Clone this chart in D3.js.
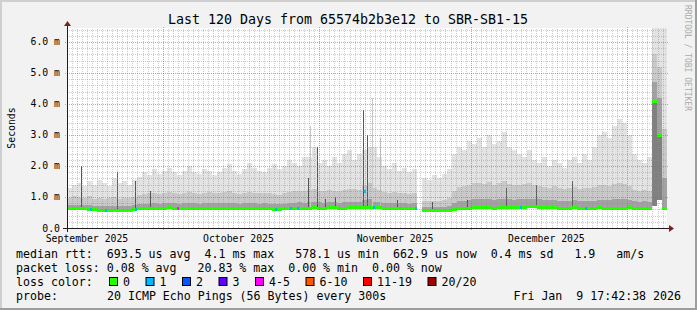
<!DOCTYPE html>
<html>
<head>
<meta charset="utf-8">
<script src="https://cdn.jsdelivr.net/npm/d3@7"></script>
<style>
body{margin:0;background:#f2f2f2;}
svg{display:block;}
text{font-family:"DejaVu Sans Mono",monospace;white-space:pre;}
</style>
</head>
<body>
<script>
// smokeping style rtt graph, 120 days, one bin per plot column group

var title = "Last 120 Days from 65574b2b3e12 to SBR-SB1-15";
var timeStart = Date.UTC(2025, 8, 12, 1, 0, 0);
var timeEnd = Date.UTC(2026, 0, 8, 21, 0, 0);

var yTicks = [0, 1, 2, 3, 4, 5, 6];
var yTickLabels = ["0.0", "1.0 m", "2.0 m", "3.0 m", "4.0 m", "5.0 m", "6.0 m"];
var monthLabels = ["September 2025", "October 2025", "November 2025", "December 2025"];

// rtt in ms per bin (120 bins), null = no data
var rttLo = [
 0.60,0.60,0.60,0.59,0.58,0.56,0.55,0.55,0.55,0.55,
 0.55,0.55,0.56,0.56,0.60,0.61,0.61,0.62,0.62,0.62,
 0.63,0.62,0.62,0.62,0.62,0.62,0.62,0.62,0.62,0.62,
 0.62,0.62,0.62,0.62,0.61,0.61,0.61,0.61,0.61,0.61,
 0.60,0.58,0.58,0.59,0.61,0.62,0.62,0.62,0.62,0.63,
 0.62,0.62,0.63,0.63,0.62,0.62,0.63,0.63,0.63,0.64,
 0.64,0.63,0.63,0.62,0.62,0.62,0.62,0.62,0.62,0.62,
 null,0.55,0.54,0.54,0.54,0.55,0.56,0.58,0.60,0.61,
 0.62,0.63,0.64,0.63,0.63,0.62,0.63,0.64,0.63,0.63,
 0.64,0.65,0.66,0.66,0.65,0.64,0.63,0.63,0.62,0.62,
 0.62,0.63,0.62,0.62,0.62,0.62,0.63,0.62,0.62,0.62,
 0.62,0.62,0.63,0.62,0.62,0.62,0.62,0.70,0.90,0.62
];
var rttMedian = [
 0.64,0.64,0.64,0.63,0.62,0.60,0.59,0.58,0.58,0.58,
 0.58,0.59,0.59,0.60,0.64,0.65,0.65,0.66,0.66,0.66,
 0.67,0.66,0.66,0.66,0.66,0.66,0.66,0.66,0.66,0.66,
 0.66,0.66,0.66,0.66,0.65,0.65,0.65,0.65,0.65,0.65,
 0.64,0.62,0.61,0.63,0.65,0.66,0.66,0.66,0.66,0.67,
 0.66,0.66,0.67,0.67,0.66,0.66,0.67,0.67,0.67,0.68,
 0.68,0.67,0.67,0.66,0.66,0.66,0.66,0.66,0.66,0.66,
 null,0.58,0.57,0.57,0.57,0.58,0.59,0.62,0.64,0.65,
 0.66,0.67,0.68,0.67,0.67,0.66,0.67,0.68,0.67,0.67,
 0.68,0.69,0.70,0.70,0.69,0.68,0.67,0.67,0.66,0.66,
 0.66,0.67,0.66,0.66,0.66,0.66,0.67,0.66,0.66,0.66,
 0.66,0.66,0.67,0.66,0.66,0.66,0.66,4.10,3.00,0.66
];
var rttP75 = [
 0.74,0.75,0.74,0.73,0.74,0.72,0.71,0.70,0.71,0.72,
 0.71,0.72,0.72,0.73,0.77,0.78,0.79,0.80,0.79,0.80,
 0.81,0.80,0.79,0.80,0.81,0.80,0.79,0.80,0.81,0.80,
 0.80,0.81,0.82,0.80,0.79,0.80,0.81,0.80,0.79,0.80,
 0.79,0.78,0.77,0.79,0.81,0.82,0.83,0.82,0.84,0.85,
 0.83,0.82,0.84,0.83,0.82,0.83,0.84,0.85,0.84,0.90,
 0.92,0.85,0.83,0.81,0.80,0.81,0.80,0.80,0.79,0.80,
 null,0.68,0.67,0.68,0.67,0.69,0.72,0.80,0.86,0.88,
 0.90,0.92,0.93,0.92,0.94,0.91,0.93,0.95,0.92,0.91,
 0.92,0.93,0.94,0.93,0.92,0.90,0.89,0.90,0.88,0.87,
 0.88,0.89,0.87,0.88,0.87,0.88,0.90,0.91,0.90,0.92,
 0.93,0.92,0.90,0.86,0.85,0.86,0.85,4.70,4.20,1.60
];
var rttP90 = [
 0.98,1.02,1.00,0.96,1.04,0.95,0.97,0.94,0.96,1.00,
 0.95,0.98,0.97,1.00,1.08,1.10,1.12,1.14,1.10,1.12,
 1.15,1.12,1.10,1.12,1.16,1.12,1.10,1.13,1.15,1.12,
 1.12,1.15,1.18,1.13,1.10,1.12,1.16,1.14,1.12,1.12,
 1.12,1.10,1.08,1.12,1.16,1.18,1.20,1.18,1.22,1.25,
 1.20,1.18,1.22,1.20,1.18,1.22,1.25,1.26,1.22,1.40,
 1.45,1.28,1.22,1.16,1.14,1.16,1.12,1.14,1.10,1.12,
 null,0.88,0.86,0.88,0.86,0.90,0.98,1.20,1.32,1.36,
 1.40,1.44,1.46,1.42,1.48,1.40,1.44,1.50,1.42,1.38,
 1.40,1.42,1.45,1.40,1.36,1.32,1.30,1.34,1.28,1.26,
 1.30,1.32,1.26,1.30,1.28,1.32,1.38,1.40,1.36,1.42,
 1.46,1.42,1.36,1.24,1.20,1.22,1.20,5.60,5.20,3.20
];
var rttMax = [
 1.30,1.40,1.45,1.35,1.50,1.40,1.55,1.45,1.35,1.60,
 1.45,1.50,1.40,1.55,1.65,1.80,1.70,1.90,1.75,1.85,
 1.95,1.80,1.70,1.85,2.00,1.80,1.75,1.90,1.85,1.70,
 1.80,1.95,2.05,1.85,1.75,1.90,2.10,1.95,1.85,1.80,
 1.95,2.05,1.90,2.00,2.20,2.10,2.00,2.30,2.30,2.60,
 2.10,2.20,2.00,2.30,2.10,2.40,2.50,2.20,2.40,2.50,
 2.60,2.60,2.30,2.00,1.90,2.10,1.85,1.95,1.80,1.90,
 null,1.60,1.55,1.70,1.60,1.75,1.90,2.40,2.60,2.50,
 2.80,2.70,2.90,2.60,3.00,2.70,2.80,3.10,2.60,2.50,
 2.40,2.30,2.50,2.20,2.10,2.30,2.00,2.20,2.10,1.95,
 2.20,2.30,2.10,2.40,2.20,2.60,3.00,3.10,2.90,3.30,
 3.50,3.40,3.00,2.40,2.20,2.10,2.30,6.50,6.50,6.50
];

// single-sample bursts: [bin position, rtt ms]
var darkSpikes = [[2.7,2.0],[9.9,1.8],[13.6,1.5],[16.6,1.2],[48.2,1.6],[49.9,2.6],[51.6,0.95],
  [53.6,1.0],[59.3,3.8],[60.0,3.0],[66.0,0.9],[73.0,0.85],[80.0,0.9],[87.8,1.3],[93.8,1.4],[101.0,1.5]];
var lightSpikes = [[48.6,3.3],[61.0,4.2],[62.6,2.9]];

// median samples with loss: [bin position, rtt ms, lost pings]
var lossMarks = [[4.6,0.61,1],[7.6,0.58,1],[13.6,0.60,1],[22.0,0.66,4],[41.6,0.62,1],[44.6,0.65,1],
  [46.0,0.66,1],[59.4,1.2,1],[61.2,0.67,1],[69.6,0.66,1],[90.6,0.68,1],[103.6,0.66,1]];

var lossLabels = ["0", "1", "2", "3", "4-5", "6-10", "11-19", "20/20"];
var lossColors = ["#26ff00", "#00b8ff", "#0059ff", "#5e00ff", "#ff00ff", "#ff5500", "#ff0000", "#a10000"];
var lossMaxCount = [0, 1, 2, 3, 5, 10, 19, 20];

var medianStats = "median rtt:  693.5 us avg  4.1 ms max   578.1 us min  662.9 us now  0.4 ms sd   1.9   am/s";
var lossStats = "packet loss: 0.08 % avg   20.83 % max  0.00 % min  0.00 % now";
var probeText = "20 ICMP Echo Pings (56 Bytes) every 300s";
var stampText = "Fri Jan  9 17:42:38 2026";

// ---- layout
var W = 697, H = 310;
var X0 = 67, X1 = 667, Y0 = 228, Y1 = 28;

var svg = d3.select("body").append("svg")
    .attr("width", W)
    .attr("height", H);

// background + 3d frame
svg.append("rect").attr("width", W).attr("height", H).style("fill", "#f2f2f2");
svg.append("rect").attr("x", 0).attr("y", 0).attr("width", W).attr("height", 2).style("fill", "#cfcfcf");
svg.append("rect").attr("x", 0).attr("y", 0).attr("width", 2).attr("height", H).style("fill", "#cfcfcf");
svg.append("rect").attr("x", 0).attr("y", H - 2).attr("width", W).attr("height", 2).style("fill", "#9e9e9e");
svg.append("rect").attr("x", W - 2).attr("y", 0).attr("width", 2).attr("height", H).style("fill", "#9e9e9e");

svg.append("rect").attr("x", X0).attr("y", Y1).attr("width", X1 - X0).attr("height", Y0 - Y1)
    .style("fill", "#ffffff");

var x = d3.scaleUtc().domain([timeStart, timeEnd]).range([X0, X1]);
var y = d3.scaleLinear().domain([0, 6.45]).range([Y0, Y1]);

var nBins = rttMedian.length;
function binT(b) { return timeStart + b * (timeEnd - timeStart) / nBins; }

svg.append("clipPath").attr("id", "plotclip")
  .append("rect").attr("x", X0).attr("y", Y1).attr("width", X1 - X0).attr("height", Y0 - Y1);

var plot = svg.append("g").attr("clip-path", "url(#plotclip)").attr("shape-rendering", "crispEdges");

// smoke
var bins = d3.range(nBins).filter(function(i) { return rttMedian[i] != null; });
var bands = [
    {lo: rttP90, hi: rttMax, fill: "#e3e3e3"},
    {lo: rttP75, hi: rttP90, fill: "#c9c9c9"},
    {lo: rttMedian, hi: rttP75, fill: "#a2a2a2"},
    {lo: rttLo, hi: rttMedian, fill: "#808080"}
];
bands.forEach(function(b) {
    plot.append("g").selectAll("rect")
        .data(bins)
        .enter()
        .append("rect")
        .attr("x", function(i) { return Math.round(x(binT(i))); })
        .attr("width", function(i) { return Math.round(x(binT(i + 1))) - Math.round(x(binT(i))); })
        .attr("y", function(i) { return y(b.hi[i]); })
        .attr("height", function(i) { return Math.max(1, y(b.lo[i]) - y(b.hi[i])); })
        .style("fill", b.fill);
});

plot.append("g").selectAll("line")
    .data(lightSpikes)
    .enter()
    .append("line")
    .attr("x1", function(d) { return Math.round(x(binT(d[0]))) + 0.5; })
    .attr("x2", function(d) { return Math.round(x(binT(d[0]))) + 0.5; })
    .attr("y1", function(d) { return y(rttMedian[Math.floor(d[0])]); })
    .attr("y2", function(d) { return y(d[1]); })
    .style("stroke", "#c8c8c8");

plot.append("g").selectAll("line")
    .data(darkSpikes)
    .enter()
    .append("line")
    .attr("x1", function(d) { return Math.round(x(binT(d[0]))) + 0.5; })
    .attr("x2", function(d) { return Math.round(x(binT(d[0]))) + 0.5; })
    .attr("y1", function(d) { return y(rttMedian[Math.floor(d[0])]); })
    .attr("y2", function(d) { return y(d[1]); })
    .style("stroke", "#555555");

// grid (drawn over the smoke like rrdtool does)
var grid = svg.append("g").attr("shape-rendering", "crispEdges");
var months = d3.utcMonth.range(new Date(timeStart), new Date(timeEnd));
var days = d3.utcDay.range(new Date(timeStart), new Date(timeEnd)).filter(function(d) {
    return d.getUTCDate() !== 1;
});
grid.selectAll(".vmin").data(days).enter().append("line")
    .attr("x1", function(d) { return Math.round(x(d)) + 0.5; })
    .attr("x2", function(d) { return Math.round(x(d)) + 0.5; })
    .attr("y1", Y0).attr("y2", Y1)
    .style("stroke", "rgba(143,143,143,0.45)").style("stroke-dasharray", "1,1");
var minorY = d3.range(1, 33).map(function(k) { return k * 0.2; })
    .filter(function(v) { return Math.abs(v - Math.round(v)) > 1e-6 && v < 6.45; });
grid.selectAll(".hmin").data(minorY).enter().append("line")
    .attr("x1", X0).attr("x2", X1)
    .attr("y1", function(v) { return Math.round(y(v)) + 0.5; })
    .attr("y2", function(v) { return Math.round(y(v)) + 0.5; })
    .style("stroke", "rgba(143,143,143,0.45)").style("stroke-dasharray", "1,1");
grid.selectAll(".vmaj").data(months).enter().append("line")
    .attr("x1", function(d) { return Math.round(x(d)) + 0.5; })
    .attr("x2", function(d) { return Math.round(x(d)) + 0.5; })
    .attr("y1", Y0 + 2).attr("y2", Y1 - 2)
    .style("stroke", "rgba(222,79,79,0.6)").style("stroke-dasharray", "1,1");
grid.selectAll(".hmaj").data(yTicks.slice(1)).enter().append("line")
    .attr("x1", X0 - 2).attr("x2", X1 + 2)
    .attr("y1", function(v) { return Math.round(y(v)) + 0.5; })
    .attr("y2", function(v) { return Math.round(y(v)) + 0.5; })
    .style("stroke", "rgba(222,79,79,0.6)").style("stroke-dasharray", "1,1");

// median line, loss colour 0
plot.append("g").selectAll("rect")
    .data(bins)
    .enter()
    .append("rect")
    .attr("x", function(i) { return Math.round(x(binT(i))); })
    .attr("width", function(i) { return Math.round(x(binT(i + 1))) - Math.round(x(binT(i))); })
    .attr("y", function(i) { return Math.round(y(rttMedian[i])) - 1; })
    .attr("height", 3)
    .style("fill", lossColors[0]);

function lossColor(n) {
    for (var k = 0; k < lossMaxCount.length; k++) {
        if (n <= lossMaxCount[k]) return lossColors[k];
    }
    return lossColors[lossColors.length - 1];
}
plot.append("g").selectAll("rect")
    .data(lossMarks)
    .enter()
    .append("rect")
    .attr("x", function(d) { return Math.round(x(binT(d[0]))); })
    .attr("y", function(d) { return Math.round(y(d[1])) - 1; })
    .attr("width", 2).attr("height", 3)
    .style("fill", function(d) { return lossColor(d[2]); });

// axes + arrows
svg.append("line").attr("x1", X0 - 4).attr("x2", X1 + 4).attr("y1", Y0 + 0.5).attr("y2", Y0 + 0.5)
    .style("stroke", "#1f1f1f");
svg.append("line").attr("x1", X0 + 0.5).attr("x2", X0 + 0.5).attr("y1", Y0 + 4).attr("y2", Y1 - 4)
    .style("stroke", "#1f1f1f");
svg.append("polygon")
    .attr("points", [[X1 + 2, Y0 - 3], [X1 + 2, Y0 + 4], [X1 + 7, Y0 + 0.5]].join(" "))
    .style("fill", "#801f1f");
svg.append("polygon")
    .attr("points", [[X0 - 3, Y1 - 2], [X0 + 4, Y1 - 2], [X0 + 0.5, Y1 - 7]].join(" "))
    .style("fill", "#801f1f");

// labels
svg.append("g").selectAll("text")
    .data(yTicks)
    .enter()
    .append("text")
    .attr("x", 60)
    .attr("y", function(v) { return y(v) + 3.5; })
    .attr("text-anchor", "end")
    .style("font-size", "9.8px")
    .text(function(v, i) { return yTickLabels[i]; });

var labelMonths = d3.utcMonth.range(d3.utcMonth.floor(new Date(timeStart)), new Date(timeEnd));
svg.append("g").selectAll("text")
    .data(labelMonths.map(function(m, i) { return {t: d3.utcDay.offset(m, 15), label: monthLabels[i]}; })
        .filter(function(d) { return d.label && x(d.t) > X0 && x(d.t) < X1; }))
    .enter()
    .append("text")
    .attr("x", function(d) { return x(d.t); })
    .attr("y", 241.5)
    .attr("text-anchor", "middle")
    .style("font-size", "9.8px")
    .text(function(d) { return d.label; });

svg.append("text")
    .attr("x", 348).attr("y", 24)
    .attr("text-anchor", "middle")
    .style("font-size", "13.3px")
    .text(title);

svg.append("text")
    .attr("transform", "translate(15,128) rotate(-90)")
    .attr("text-anchor", "middle")
    .style("font-size", "9.8px")
    .text("Seconds");

svg.append("text")
    .attr("transform", "translate(685,5) rotate(90)")
    .style("font-size", "8px")
    .style("fill", "#aaaaaa")
    .text("RRDTOOL / TOBI OETIKER");

// legend
var legend = svg.append("g").style("font-size", "11.6px");
legend.append("text").attr("x", 16).attr("y", 258).text(medianStats);
legend.append("text").attr("x", 16).attr("y", 272).text(lossStats);
legend.append("text").attr("x", 16).attr("y", 286).text("loss color:");
legend.append("text").attr("x", 16).attr("y", 300).text("probe:");
legend.append("text").attr("x", 107).attr("y", 300).text(probeText);
legend.append("text").attr("x", 681).attr("y", 300).attr("text-anchor", "end").text(stampText);

var bx = 109;
lossLabels.forEach(function(lab, k) {
    legend.append("rect")
        .attr("x", bx + 0.5).attr("y", 277.5)
        .attr("width", 8).attr("height", 8)
        .style("fill", lossColors[k]).style("stroke", "#000");
    legend.append("text").attr("x", bx + 14).attr("y", 286).text(lab);
    bx = bx + 14 + lab.length * 7 + 15.5;
});
</script>
</body>
</html>
